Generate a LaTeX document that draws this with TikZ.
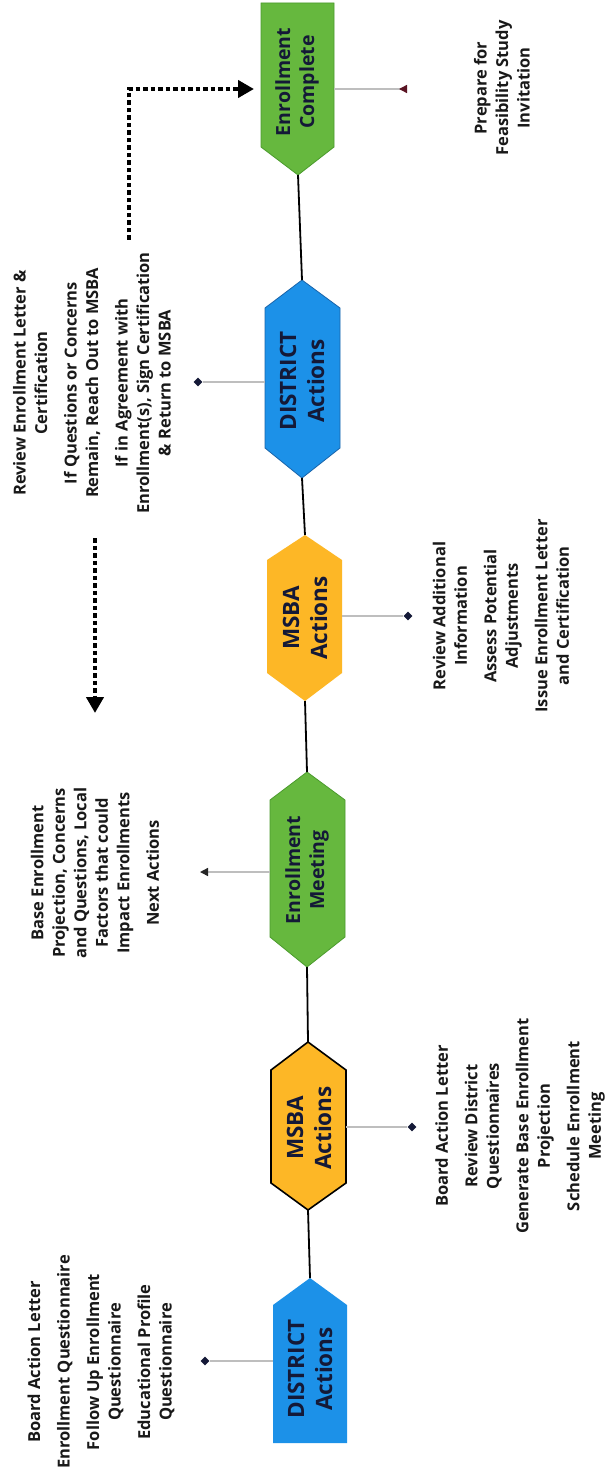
\documentclass[tikz,border=0pt]{standalone}
\usepackage{fontspec}
\setmainfont{Open Sans}
\usetikzlibrary{arrows.meta,shapes.geometric}
\definecolor{cblue}{RGB}{28,145,232}
\definecolor{cblueedge}{RGB}{25,100,170}
\definecolor{corange}{RGB}{253,183,38}
\definecolor{cgreen}{RGB}{102,184,62}
\definecolor{cgreenedge}{RGB}{75,155,45}
\definecolor{navy}{RGB}{20,25,55}
\definecolor{txt}{RGB}{25,25,25}
\definecolor{sideline}{RGB}{190,190,190}
\definecolor{darkred}{RGB}{90,20,35}
\tikzset{
  flow/.style={draw=black, line width=1.8pt},
  side/.style={draw=sideline, line width=1.4pt},
  dotarrow/.style={draw=black, line width=4.5pt, dash pattern=on 4.5pt off 3pt,
    -{Triangle[length=16pt,width=17pt]}},
  listtext/.style={rotate=90, align=center, font=\fontsize{16.5}{21.5}\selectfont\bfseries, text=txt, inner sep=0pt},
  biglabel/.style={rotate=90, align=center, font=\fontsize{22.5}{28}\selectfont\bfseries, text=navy, inner sep=0pt},
  midlabel/.style={rotate=90, align=center, font=\fontsize{19.5}{24}\selectfont\bfseries, text=navy, inner sep=0pt},
  diam/.style={diamond, fill=navy, inner sep=0pt, minimum size=9pt},
  bluefill/.style={fill=cblue},
  orangefill/.style={fill=corange},
  greenfill/.style={fill=cgreen, draw=cgreenedge, line width=0.8pt},
}
\begin{document}
\begin{tikzpicture}[x=1pt,y=-1pt]
\useasboundingbox (0,0) rectangle (610,1479);
\fill[white] (0,0) rectangle (610,1479);

% ---- shapes ----
% Enrollment Complete (top pentagon)
\path[greenfill] (261,3) -- (334,3) -- (334,147) -- (298,175) -- (261,147) -- cycle;
\coordinate (ECb) at (298,175);
\coordinate (ECe) at (334,89);
% DISTRICT (upper)
\path[bluefill, draw=cblueedge, line width=0.8pt] (302,280) -- (340,308) -- (340,448) -- (302,478) -- (265,448) -- (265,308) -- cycle;
\coordinate (D2t) at (302,280); \coordinate (D2b) at (302,478); \coordinate (D2w) at (265,382);
% MSBA (middle)
\path[orangefill] (305,535) -- (342,560) -- (342,673) -- (305,701) -- (267,673) -- (267,560) -- cycle;
\coordinate (M2t) at (305,535); \coordinate (M2b) at (305,701); \coordinate (M2e) at (342,616);
% Enrollment Meeting
\path[greenfill] (307,772) -- (345,800) -- (345,937) -- (307,967) -- (270,937) -- (270,800) -- cycle;
\coordinate (EMt) at (307,772); \coordinate (EMb) at (307,967); \coordinate (EMw) at (270,872);
% MSBA (lower)
\path[orangefill, draw=black, line width=1.6pt] (308,1042) -- (346,1070) -- (346,1183) -- (308,1210) -- (271,1183) -- (271,1070) -- cycle;
\coordinate (M1t) at (308,1042); \coordinate (M1b) at (308,1210); \coordinate (M1e) at (346,1127);
% DISTRICT (bottom pentagon)
\path[bluefill] (310,1278) -- (347,1305) -- (347,1443) -- (273,1443) -- (273,1305) -- cycle;
\coordinate (D1t) at (310,1278); \coordinate (D1w) at (273,1361);

% ---- labels in shapes ----
\node[midlabel] (ECl) at (297,82) {Enrollment\\Complete};
\node[biglabel] (D2l) at (302,381) {DISTRICT\\Actions};
\node[biglabel] (M2l) at (305,618) {MSBA\\Actions};
\node[midlabel] (EMl) at (307,870) {Enrollment\\Meeting};
\node[biglabel] (M1l) at (309,1128) {MSBA\\Actions};
\node[biglabel] (D1l) at (310,1369) {DISTRICT\\Actions};

% ---- main flow ----
\draw[flow] (ECb) -- (D2t);
\draw[flow] (D2b) -- (M2t);
\draw[flow] (M2b) -- (EMt);
\draw[flow] (EMb) -- (M1t);
\draw[flow] (M1b) -- (D1t);

% ---- side connectors ----
\node[diam] (D1d) at (205,1361) {};
\draw[side] (D1w) -- (D1d);
\node[diam] (M1d) at (412,1127) {};
\draw[side] (M1e) -- (M1d);
\coordinate (EMend) at (200,872);
\draw[side, -{Triangle[length=8pt,width=8pt,color=black!85]}] (EMw) -- (EMend);
\node[diam] (M2d) at (408,616) {};
\draw[side] (M2e) -- (M2d);
\node[diam] (D2d) at (198,382) {};
\draw[side] (D2w) -- (D2d);
\coordinate (ECend) at (407,89);
\draw[side, -{Triangle[reversed,length=8pt,width=8pt,color=darkred]}] (ECe) -- (ECend);

% ---- dotted arrows ----
\coordinate (A1) at (129,240);
\coordinate (A2) at (129,89);
\coordinate (A3) at (254,89);
\draw[dotarrow] (A1) -- (A2) -- (A3);
\coordinate (B1) at (95,538);
\coordinate (B2) at (95,713);
\draw[dotarrow] (B1) -- (B2);

% ---- text blocks ----
\node[listtext] (tA) at (101,1362) {Board Action Letter\\[8pt]
Enrollment Questionnaire\\[8pt]
Follow Up Enrollment\\Questionnaire\\[8pt]
Educational Profile\\Questionnaire};
\node[listtext] (tB) at (520,1126) {Board Action Letter\\[8pt]
Review District\\Questionnaires\\[8pt]
Generate Base Enrollment\\Projection\\[8pt]
Schedule Enrollment\\Meeting};
\node[listtext] (tC) at (95,873) {Base Enrollment\\Projection, Concerns\\and Questions, Local\\Factors that could\\Impact Enrollments\\[8pt]
Next Actions};
\node[listtext] (tD) at (501,616) {Review Additional\\Information\\[8pt]
Assess Potential\\Adjustments\\[8pt]
Issue Enrollment Letter\\and Certification};
\node[listtext] (tE) at (92,383) {Review Enrollment Letter \&\\Certification\\[8pt]
If Questions or Concerns\\Remain, Reach Out to MSBA\\[8pt]
If in Agreement with\\Enrollment(s), Sign Certification\\\& Return to MSBA};
\node[listtext] (tF) at (502,88) {Prepare for\\Feasibility Study\\Invitation};
\end{tikzpicture}
\end{document}
